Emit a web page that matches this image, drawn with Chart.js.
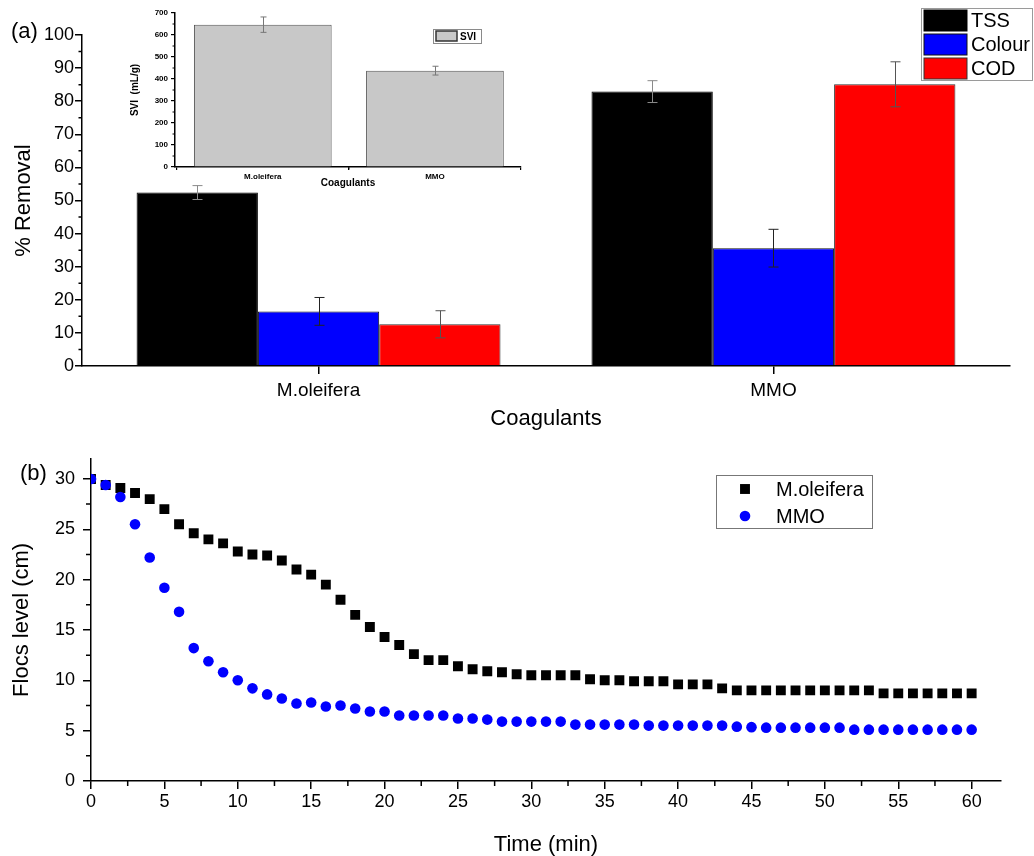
<!DOCTYPE html>
<html>
<head>
<meta charset="utf-8">
<title>Coagulant performance</title>
<script src="https://cdn.jsdelivr.net/npm/chart.js@4.4.1/dist/chart.umd.min.js"></script>
<style>
  body { margin: 0; background: #fff; }
  #page { position: relative; width: 1034px; height: 856px; overflow: hidden; background: #fff;
          font-family: 'Liberation Sans', Arial, sans-serif; }
  #page canvas { position: absolute; }
  .panel { position: absolute; font-size: 22px; line-height: 1; color: #000; }
</style>
</head>
<body>
<div id="page">
  <canvas id="removal" width="1034" height="440" style="left:0;top:0"></canvas>
  <canvas id="svi" width="440" height="195" style="left:100px;top:0"></canvas>
  <canvas id="flocs" width="1034" height="416" style="left:0;top:440px"></canvas>
  <div class="panel" style="left:11px;top:20px">(a)</div>
  <div class="panel" style="left:20px;top:462px">(b)</div>
</div>
<script>
const FONT = "'Liberation Sans', Arial, sans-serif";
Chart.defaults.font.family = FONT;
Chart.defaults.color = '#000';
Chart.defaults.animation = false;
Chart.defaults.plugins.legend.display = false;
Chart.defaults.plugins.tooltip.enabled = false;

// (a) removal efficiency, %
const coagulants = ['M.oleifera', 'MMO'];
const tssRemoval = [52.4, 82.9];
const tssErr = [2.1, 3.3];
const colourRemoval = [16.5, 35.6];
const colourErr = [4.2, 5.7];
const codRemoval = [12.6, 85.1];
const codErr = [4.1, 6.8];

// inset: sludge volume index, mL/g
const sviValues = [647, 438];
const sviErr = [35, 20];

// (b) flocs level during settling
const timeMin = [0, 1, 2, 3, 4, 5, 6, 7, 8, 9, 10, 11, 12, 13, 14, 15, 16, 17, 18, 19, 20,
  21, 22, 23, 24, 25, 26, 27, 28, 29, 30, 31, 32, 33, 34, 35, 36, 37, 38, 39, 40,
  41, 42, 43, 44, 45, 46, 47, 48, 49, 50, 51, 52, 53, 54, 55, 56, 57, 58, 59, 60];
const flocsMoleifera = [30.0, 29.4, 29.1, 28.6, 28.0, 27.0, 25.5, 24.6, 24.0, 23.6, 22.8,
  22.5, 22.4, 21.9, 21.0, 20.5, 19.5, 18.0, 16.5, 15.3, 14.3,
  13.5, 12.6, 12.0, 12.0, 11.4, 11.1, 10.9, 10.8, 10.6, 10.5,
  10.5, 10.5, 10.5, 10.1, 10.0, 10.0, 9.9, 9.9, 9.9, 9.6,
  9.6, 9.6, 9.2, 9.0, 9.0, 9.0, 9.0, 9.0, 9.0, 9.0,
  9.0, 9.0, 9.0, 8.7, 8.7, 8.7, 8.7, 8.7, 8.7, 8.7];
const flocsMMO = [30.0, 29.4, 28.2, 25.5, 22.2, 19.2, 16.8, 13.2, 11.9, 10.8, 10.0,
  9.2, 8.6, 8.2, 7.7, 7.8, 7.4, 7.5, 7.2, 6.9, 6.9,
  6.5, 6.5, 6.5, 6.5, 6.2, 6.2, 6.1, 5.9, 5.9, 5.9,
  5.9, 5.9, 5.6, 5.6, 5.6, 5.6, 5.6, 5.5, 5.5, 5.5,
  5.5, 5.5, 5.5, 5.4, 5.35, 5.3, 5.3, 5.3, 5.3, 5.3,
  5.3, 5.1, 5.1, 5.1, 5.1, 5.1, 5.1, 5.1, 5.1, 5.1];

const slot = coagulants.map((_, i) => i + 1);
const asPoints = (xs, ys) => ys.map((y, i) => ({ x: xs[i], y }));
const midpoints = (lo, hi, step) => {
  const out = [];
  for (let v = lo + step / 2; v < hi; v += step) out.push(v);
  return out;
};

// vertical error bars with caps, read from dataset.errors
const errorBars = {
  id: 'errorBars',
  afterDatasetsDraw(chart, args, opts) {
    const ctx = chart.ctx, ys = chart.scales.y;
    chart.data.datasets.forEach((ds, i) => {
      if (!ds.errors) return;
      chart.getDatasetMeta(i).data.forEach((bar, j) => {
        const v = ds.data[j].y, e = ds.errors[j];
        const top = ys.getPixelForValue(v + e), bot = ys.getPixelForValue(v - e);
        const cx = Math.round(bar.x) + 0.5;
        ctx.save();
        ctx.strokeStyle = ds.errorColor || '#444';
        ctx.lineWidth = opts.width || 1;
        ctx.beginPath();
        ctx.moveTo(cx, top); ctx.lineTo(cx, bot);
        ctx.moveTo(cx - opts.cap, top); ctx.lineTo(cx + opts.cap, top);
        ctx.moveTo(cx - opts.cap, bot); ctx.lineTo(cx + opts.cap, bot);
        ctx.stroke();
        ctx.restore();
      });
    });
  }
};

// short unlabelled ticks between the major ones
const minorTicks = {
  id: 'minorTicks',
  afterDraw(chart, args, opts) {
    const ctx = chart.ctx;
    (opts.marks || []).forEach(m => {
      const s = chart.scales[m.axis];
      ctx.save();
      ctx.strokeStyle = '#000';
      ctx.lineWidth = m.width || 1.5;
      ctx.beginPath();
      m.at.forEach(v => {
        const p = s.getPixelForValue(v);
        if (s.isHorizontal()) { ctx.moveTo(p, s.top); ctx.lineTo(p, s.top + m.len); }
        else { ctx.moveTo(s.right, p); ctx.lineTo(s.right - m.len, p); }
      });
      ctx.stroke();
      ctx.restore();
    });
  }
};

// framed legend drawn inside the plot
const boxLegend = {
  id: 'boxLegend',
  afterDraw(chart, args, o) {
    if (!o.frame) return;
    const ctx = chart.ctx;
    ctx.save();
    ctx.lineWidth = 1;
    ctx.strokeStyle = o.frame;
    ctx.strokeRect(o.x + 0.5, o.y + 0.5, o.w, o.h);
    ctx.font = o.font;
    ctx.textBaseline = 'middle';
    chart.data.datasets.forEach((ds, k) => {
      const cy = o.y + o.first + k * o.step;
      if (o.kind === 'swatch') {
        ctx.fillStyle = ds.backgroundColor;
        ctx.fillRect(o.markX, cy - o.markH / 2, o.markW, o.markH);
        ctx.strokeStyle = o.swatchEdge || ds.borderColor;
        ctx.lineWidth = o.swatchLine || 1;
        ctx.strokeRect(o.markX, cy - o.markH / 2, o.markW, o.markH);
      } else {
        ctx.fillStyle = ds.backgroundColor;
        ctx.beginPath();
        if (ds.pointStyle === 'rect') {
          const h = ds.pointRadius * Math.SQRT1_2;
          ctx.rect(o.markX - h, cy - h, 2 * h, 2 * h);
        } else {
          ctx.arc(o.markX, cy, ds.pointRadius, 0, Math.PI * 2);
        }
        ctx.fill();
      }
      ctx.fillStyle = '#000';
      ctx.fillText(ds.label, o.textX, cy + 1);
    });
    ctx.restore();
  }
};

// ---------- (a) % removal ----------
new Chart(document.getElementById('removal'), {
  type: 'bar',
  data: {
    datasets: [
      { label: 'TSS', data: asPoints(slot, tssRemoval), errors: tssErr,
        backgroundColor: '#000000', borderColor: '#000000', errorColor: '#8a8a8a' },
      { label: 'Colour', data: asPoints(slot, colourRemoval), errors: colourErr,
        backgroundColor: '#0000ff', borderColor: '#111111', errorColor: '#222222' },
      { label: 'COD', data: asPoints(slot, codRemoval), errors: codErr,
        backgroundColor: '#ff0000', borderColor: '#333333', errorColor: '#555555' }
    ]
  },
  options: {
    responsive: false,
    layout: { padding: { top: 35, right: 24, left: 0, bottom: 0 } },
    datasets: { bar: { borderWidth: 1, categoryPercentage: 0.8, barPercentage: 1 } },
    scales: {
      x: {
        type: 'linear', min: 0.48, max: 2.52, offset: false,
        afterBuildTicks: s => { s.ticks = slot.map(v => ({ value: v })); },
        afterFit: s => { s.height = 74; },
        ticks: { callback: (v, i) => coagulants[i], font: { size: 19 }, padding: 5,
                 maxRotation: 0, autoSkip: false },
        grid: { drawOnChartArea: false, offset: false, tickLength: 8, color: '#000', lineWidth: 1.5 },
        border: { color: '#000', width: 1.5 },
        title: { display: true, text: 'Coagulants', font: { size: 22 }, padding: { top: 0, bottom: 8 } }
      },
      y: {
        min: 0, max: 100,
        afterFit: s => { s.width = 82; },
        ticks: { stepSize: 10, font: { size: 18 }, padding: 1 },
        grid: { drawOnChartArea: false, tickLength: 7, color: '#000', lineWidth: 1.5 },
        border: { color: '#000', width: 1.5 },
        title: { display: true, text: '% Removal', font: { size: 22 }, padding: { top: 11, bottom: 0 } }
      }
    },
    plugins: {
      errorBars: { cap: 5, width: 1 },
      minorTicks: { marks: [{ axis: 'y', at: midpoints(0, 100, 10), len: 3.5 }] },
      boxLegend: { frame: '#9a9a9a', kind: 'swatch', x: 921, y: 8, w: 111, h: 72,
                   first: 12.5, step: 24, markX: 924, markW: 43, markH: 21, textX: 971,
                   font: '20px ' + FONT }
    }
  },
  plugins: [errorBars, minorTicks, boxLegend]
});

// ---------- inset: SVI ----------
const bold = size => ({ size, weight: 'bold' });
new Chart(document.getElementById('svi'), {
  type: 'bar',
  data: {
    datasets: [
      { label: 'SVI', data: asPoints(slot, sviValues), errors: sviErr,
        backgroundColor: '#c8c8c8', borderColor: '#555555', errorColor: '#777777' }
    ]
  },
  options: {
    responsive: false,
    layout: { padding: { top: 13, right: 19, left: 0, bottom: 0 } },
    datasets: { bar: { borderWidth: 1, categoryPercentage: 0.8, barPercentage: 1 } },
    scales: {
      x: {
        type: 'linear', min: 0.49, max: 2.5, offset: false,
        afterBuildTicks: s => { s.ticks = slot.map(v => ({ value: v })); },
        afterFit: s => { s.height = 28; },
        ticks: { callback: (v, i) => coagulants[i], font: bold(8), padding: 2,
                 maxRotation: 0, autoSkip: false },
        grid: { drawOnChartArea: false, tickLength: 3, color: '#000', lineWidth: 1.2 },
        border: { color: '#000', width: 1.5 },
        title: { display: true, text: 'Coagulants', font: bold(10), padding: { top: 0, bottom: 6 } }
      },
      y: {
        min: 0, max: 700,
        afterFit: s => { s.width = 75; },
        ticks: { stepSize: 100, font: bold(8), padding: 3 },
        grid: { drawOnChartArea: false, tickLength: 4, color: '#000', lineWidth: 1.2 },
        border: { color: '#000', width: 1.5 },
        title: { display: true, text: 'SVI  (mL/g)', font: bold(10), padding: { top: 29, bottom: 0 } }
      }
    },
    plugins: {
      errorBars: { cap: 3, width: 1 },
      minorTicks: { marks: [
        { axis: 'y', at: midpoints(0, 700, 100), len: 2.5, width: 1 },
        { axis: 'x', at: midpoints(1, 2, 1), len: 2.5, width: 1 }
      ] },
      boxLegend: { frame: '#8a8a8a', kind: 'swatch', x: 333, y: 29, w: 48, h: 14,
                   first: 7, step: 0, markX: 336, markW: 21, markH: 10, textX: 360,
                   swatchEdge: '#333', swatchLine: 1.5, font: 'bold 10px ' + FONT }
    }
  },
  plugins: [errorBars, minorTicks, boxLegend]
});

// ---------- (b) flocs level vs time ----------
new Chart(document.getElementById('flocs'), {
  type: 'scatter',
  data: {
    datasets: [
      { label: 'M.oleifera', data: asPoints(timeMin, flocsMoleifera), pointStyle: 'rect',
        pointRadius: 7, pointBorderWidth: 0, backgroundColor: '#000000', borderColor: '#000000', order: 1 },
      { label: 'MMO', data: asPoints(timeMin, flocsMMO), pointStyle: 'circle',
        pointRadius: 5.3, pointBorderWidth: 0, backgroundColor: '#0000ff', borderColor: '#0000ff', order: 0 }
    ]
  },
  options: {
    responsive: false,
    layout: { padding: { top: 13, right: 33, left: 0, bottom: 0 } },
    scales: {
      x: {
        type: 'linear', min: 0, max: 62,
        afterFit: s => { s.height = 75; },
        ticks: { stepSize: 5, includeBounds: false, font: { size: 18 }, padding: 2, maxRotation: 0 },
        grid: { drawOnChartArea: false, tickLength: 8, color: '#000', lineWidth: 1.5 },
        border: { color: '#000', width: 1.5 },
        title: { display: true, text: 'Time (min)', font: { size: 22, lineHeight: 1 }, padding: { top: 0, bottom: 0 } }
      },
      y: {
        min: 0, max: 32,
        afterFit: s => { s.width = 91; },
        ticks: { stepSize: 5, includeBounds: false, font: { size: 18 }, padding: 8 },
        grid: { drawOnChartArea: false, tickLength: 8, color: '#000', lineWidth: 1.5 },
        border: { color: '#000', width: 1.5 },
        title: { display: true, text: 'Flocs level (cm)', font: { size: 22, lineHeight: 1 }, padding: { top: 11, bottom: 0 } }
      }
    },
    plugins: {
      minorTicks: { marks: [
        { axis: 'x', at: midpoints(0, 60, 5), len: 5 },
        { axis: 'y', at: midpoints(0, 30, 5), len: 5 }
      ] },
      boxLegend: { frame: '#777777', kind: 'marker', x: 716, y: 35, w: 156, h: 53,
                   first: 14, step: 27, markX: 745, textX: 776, font: '20px ' + FONT }
    }
  },
  plugins: [minorTicks, boxLegend]
});
</script>
</body>
</html>
